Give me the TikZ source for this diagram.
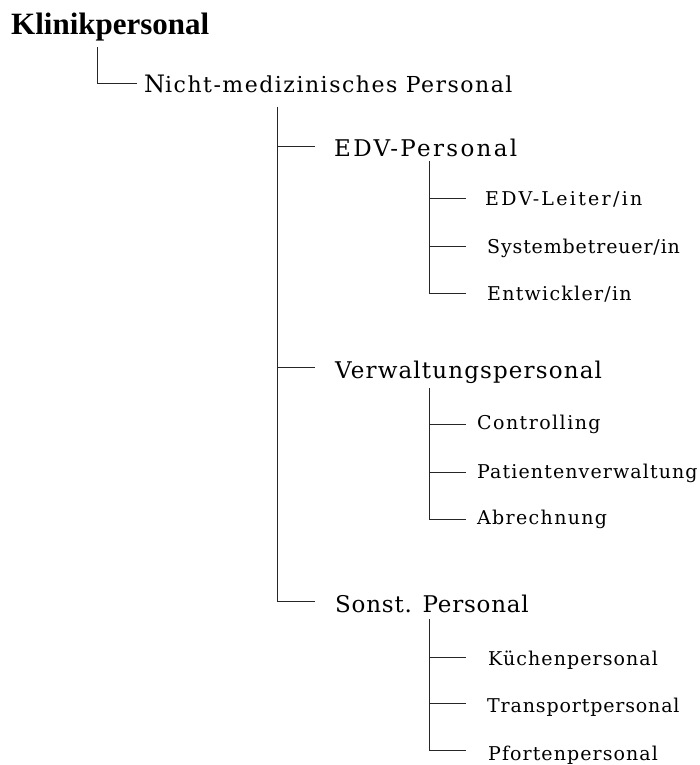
\documentclass[tikz,border=0pt]{standalone}
\usepackage{fontspec}
\setmainfont{Liberation Serif}
\newfontfamily\slabmid[LetterSpace=6.8]{DejaVu Serif}
\newfontfamily\slabhead[LetterSpace=5]{DejaVu Serif}
\newfontfamily\slabsub[LetterSpace=4.5]{DejaVu Serif}
\newcommand{\tracking}[1]{\addfontfeature{LetterSpace=#1}}

\tikzset{
  lvlzero/.style={font=\bfseries\fontsize{31}{36}\selectfont, inner sep=0pt, anchor=base west},
  lvlone/.style={font=\slabmid\fontsize{22}{26}\selectfont, inner sep=0pt, anchor=base west},
  lvltwo/.style={font=\slabhead\fontsize{23}{27}\selectfont, inner sep=0pt, anchor=base west},
  lvlthree/.style={font=\slabsub\fontsize{19}{23}\selectfont, inner sep=0pt, anchor=base west},
  branch/.style={draw=black!85, line width=0.9pt}
}

\begin{document}
\begin{tikzpicture}[x=1pt, y=-1pt]
  \useasboundingbox (0,0) rectangle (700,765);

  % tree labels
  \node[lvlzero] (root) at (11,35) {Klinikpersonal};
  \node[lvlone] (nmp) at (144,93) {{\fontsize{24}{28}\selectfont N}icht-medizinisches Personal};

  \node[lvltwo] (edv) at (334,157) {\tracking{10}EDV-Personal};
  \node[lvltwo] (verw) at (335,378) {Verwaltungspersonal};
  \node[lvltwo] (sonst) at (335,612) {\tracking{3.4}Sonst. Personal};

  \node[lvlthree] (edva) at (485,205) {\tracking{12}EDV-Leiter/in};
  \node[lvlthree] (edvb) at (487,253) {Systembetreuer/in};
  \node[lvlthree] (edvc) at (487,300) {\tracking{6.6}Entwickler/in};

  \node[lvlthree] (verwa) at (477,429) {\tracking{7.6}Controlling};
  \node[lvlthree] (verwb) at (477,478) {\tracking{5.8}Patientenverwaltung};
  \node[lvlthree] (verwc) at (477,524) {\tracking{7}Abrechnung};

  \node[lvlthree] (sonsta) at (488,665) {\tracking{5.7}Küchenpersonal};
  \node[lvlthree] (sonstb) at (487,712) {Transportpersonal};
  \node[lvlthree] (sonstc) at (488,760) {\tracking{5.6}Pfortenpersonal};

  % trunk tops
  \coordinate (rootstem) at (97,47);
  \coordinate (nmpstem) at (277,107);
  \coordinate (edvstem) at (429,161);
  \coordinate (verwstem) at (429,388);
  \coordinate (sonststem) at (429,619);

  % connectors
  \draw[branch] (rootstem) |- ([xshift=-7pt,yshift=10pt]nmp.base west);

  \draw[branch] (nmpstem) |- ([xshift=-19pt,yshift=11pt]edv.base west);
  \draw[branch] (nmpstem) |- ([xshift=-20pt,yshift=11pt]verw.base west);
  \draw[branch] (nmpstem) |- ([xshift=-20pt,yshift=11pt]sonst.base west);

  \draw[branch] (edvstem) |- ([xshift=-19pt,yshift=7pt]edva.base west);
  \draw[branch] (edvstem) |- ([xshift=-21pt,yshift=7pt]edvb.base west);
  \draw[branch] (edvstem) |- ([xshift=-21pt,yshift=7pt]edvc.base west);

  \draw[branch] (verwstem) |- ([xshift=-11pt,yshift=5pt]verwa.base west);
  \draw[branch] (verwstem) |- ([xshift=-11pt,yshift=6pt]verwb.base west);
  \draw[branch] (verwstem) |- ([xshift=-11pt,yshift=5pt]verwc.base west);

  \draw[branch] (sonststem) |- ([xshift=-22pt,yshift=8pt]sonsta.base west);
  \draw[branch] (sonststem) |- ([xshift=-21pt,yshift=9pt]sonstb.base west);
  \draw[branch] (sonststem) |- ([xshift=-22pt,yshift=10pt]sonstc.base west);
\end{tikzpicture}
\end{document}
